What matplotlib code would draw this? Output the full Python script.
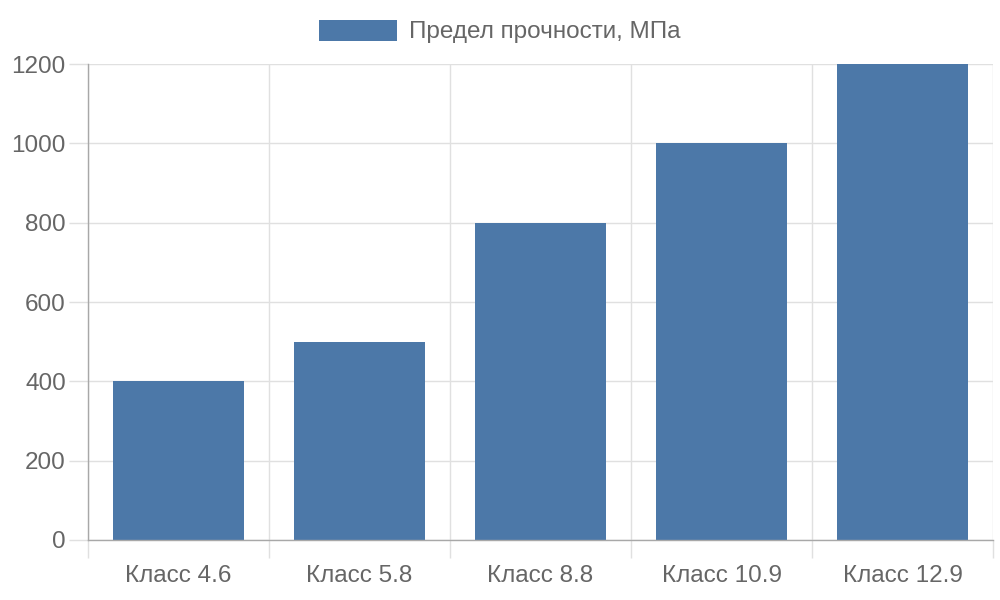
import numpy as np
import matplotlib
matplotlib.use('Agg')
import matplotlib.pyplot as plt

categories = ['Класс 4.6', 'Класс 5.8', 'Класс 8.8', 'Класс 10.9', 'Класс 12.9']
strength = [400, 500, 800, 1000, 1200]
series_name = 'Предел прочности, МПа'
y_ticks = [0, 200, 400, 600, 800, 1000, 1200]

bar_color = '#4c78a8'
grid_color = '#e0e0e0'
axis_color = '#a8a8a8'
text_color = '#666666'

plt.rcParams['font.family'] = ['Liberation Sans', 'DejaVu Sans']


def main():
    fig = plt.figure(figsize=(10, 6), dpi=100)
    ax = fig.add_axes([0.088, 0.1, 0.905, 0.7933])

    x = np.arange(len(categories)) + 0.5
    ax.bar(x, strength, width=0.72, color=bar_color, label=series_name, zorder=3)

    ax.set_xlim(0, len(categories))
    ax.set_ylim(0, 1200)

    ax.set_xticks(x)
    ax.set_xticklabels(categories)
    ax.set_xticks(np.arange(len(categories) + 1), minor=True)
    ax.set_yticks(y_ticks)

    ax.tick_params(axis='x', which='major', length=0, pad=18,
                   labelsize=17.5, labelcolor=text_color)
    ax.tick_params(axis='x', which='minor', length=13, width=1,
                   color=grid_color)
    ax.tick_params(axis='y', length=14, width=1, color=grid_color, pad=2,
                   labelsize=17.5, labelcolor=text_color)

    ax.grid(True, axis='y', color=grid_color, linewidth=1, zorder=0)
    ax.grid(True, axis='x', which='minor', color=grid_color, linewidth=1, zorder=0)
    ax.grid(False, axis='x', which='major')

    for side in ['top', 'right']:
        ax.spines[side].set_visible(False)
    for side in ['left', 'bottom']:
        ax.spines[side].set_color(axis_color)
        ax.spines[side].set_linewidth(1)
        ax.spines[side].set_zorder(4)

    fig.legend(loc='center', bbox_to_anchor=(0.5, 1 - 31.5 / 600), frameon=False,
               fontsize=17.5, labelcolor=text_color, handlelength=3.2,
               handleheight=0.95, handletextpad=0.5, borderaxespad=0)

    fig.savefig('out.png', dpi=100)


if __name__ == "__main__":
    main()
